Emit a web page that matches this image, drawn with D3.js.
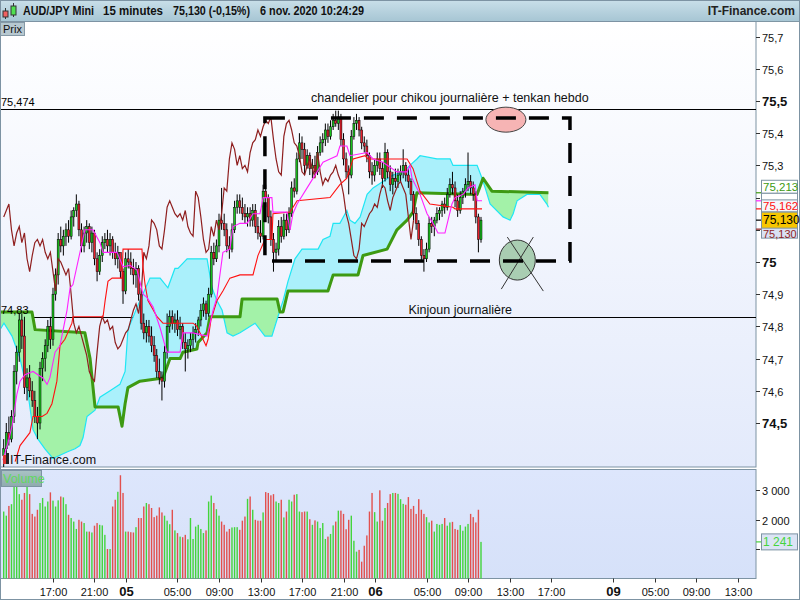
<!DOCTYPE html>
<html><head><meta charset="utf-8">
<script src="https://cdn.jsdelivr.net/npm/d3@7/dist/d3.min.js"></script>
<style>html,body{margin:0;padding:0;background:#fff}svg{display:block}</style>
</head><body>
<svg id="c" width="800" height="600"></svg>
<script>
// ---------------- DATA ----------------
const opens = [74.40,74.42,74.47,74.45,74.52,74.66,74.72,74.82,74.77,74.61,
74.64,74.60,74.57,74.52,74.50,74.67,74.70,74.74,74.80,74.76,
74.90,74.96,75.07,75.05,75.08,75.10,75.08,75.14,75.16,75.18,
75.10,75.05,75.09,75.11,75.06,75.09,75.01,74.97,75.02,75.06,
75.07,75.05,75.07,75.03,75.01,75.03,74.97,74.91,75.01,75.00,
74.98,74.96,74.98,74.90,74.81,74.78,74.80,74.77,74.74,74.71,
74.66,74.64,74.63,74.72,74.80,74.83,74.81,74.82,74.79,74.80,
74.75,74.73,74.74,74.76,74.78,74.79,74.82,74.85,74.87,74.84,
74.90,75.03,75.01,75.05,75.13,75.12,75.10,75.05,75.04,75.10,
75.17,75.19,75.17,75.15,75.14,75.15,75.13,75.16,75.11,75.09,
75.08,75.22,75.20,75.14,75.07,75.03,75.04,75.11,75.08,75.13,
75.10,75.15,75.23,75.22,75.32,75.37,75.35,75.30,75.33,75.29,
75.30,75.28,75.34,75.37,75.38,75.41,75.39,75.42,75.44,75.43,
75.45,75.38,75.32,75.28,75.27,75.39,75.43,75.44,75.41,75.37,
75.36,75.33,75.28,75.27,75.30,75.32,75.29,75.26,75.34,75.28,
75.24,75.26,75.25,75.27,75.28,75.30,75.27,75.25,75.21,75.15,
75.12,75.07,75.02,75.01,75.04,75.12,75.11,75.13,75.15,75.16,
75.18,75.17,75.21,75.24,75.23,75.19,75.16,75.20,75.22,75.24,
75.25,75.23,75.21,75.14,75.07];
const highs = [74.45,74.50,74.52,74.54,74.68,74.74,74.84,74.84,74.83,74.67,
74.68,74.63,74.60,74.55,74.69,74.72,74.76,74.82,74.83,74.92,
74.98,75.09,75.11,75.10,75.12,75.13,75.16,75.17,75.21,75.19,
75.12,75.11,75.13,75.12,75.11,75.10,75.03,75.04,75.08,75.09,
75.10,75.09,75.08,75.06,75.05,75.02,74.98,75.03,75.04,75.03,
75.01,75.00,74.99,74.92,74.84,74.82,74.82,74.80,74.77,74.73,
74.70,74.66,74.74,74.84,74.85,74.85,74.84,74.85,74.83,74.81,
74.78,74.76,74.78,74.80,74.81,74.83,74.87,74.89,74.88,74.92,
75.05,75.06,75.07,75.15,75.23,75.15,75.12,75.08,75.12,75.19,
75.21,75.21,75.20,75.18,75.17,75.17,75.18,75.18,75.14,75.13,
75.24,75.24,75.21,75.16,75.09,75.06,75.13,75.14,75.15,75.15,
75.17,75.25,75.26,75.34,75.40,75.39,75.37,75.35,75.34,75.32,
75.33,75.36,75.39,75.40,75.43,75.43,75.44,75.46,75.47,75.47,
75.46,75.40,75.34,75.30,75.41,75.45,75.46,75.45,75.42,75.39,
75.38,75.34,75.31,75.32,75.34,75.34,75.31,75.37,75.35,75.30,
75.28,75.29,75.29,75.30,75.35,75.31,75.29,75.26,75.22,75.17,
75.13,75.08,75.04,75.06,75.14,75.14,75.14,75.17,75.17,75.19,
75.20,75.23,75.26,75.28,75.25,75.21,75.22,75.23,75.26,75.34,
75.27,75.25,75.22,75.15,75.14];
const lows = [74.36,74.40,74.43,74.44,74.50,74.62,74.69,74.73,74.59,74.57,
74.58,74.55,74.50,74.45,74.48,74.63,74.66,74.72,74.73,74.74,
74.88,74.93,75.03,75.02,75.05,75.06,75.07,75.11,75.14,75.08,
75.03,75.03,75.06,75.04,75.03,74.99,74.94,74.96,75.00,75.04,
75.03,75.02,75.01,74.99,74.98,74.95,74.87,74.90,74.98,74.96,
74.93,74.92,74.88,74.79,74.76,74.75,74.75,74.72,74.69,74.64,
74.62,74.57,74.61,74.70,74.78,74.79,74.78,74.77,74.76,74.73,
74.66,74.70,74.72,74.73,74.75,74.77,74.80,74.83,74.82,74.83,
74.89,74.99,75.00,75.03,75.10,75.08,75.03,75.01,75.03,75.09,
75.15,75.15,75.13,75.12,75.11,75.11,75.11,75.09,75.07,75.06,
75.07,75.17,75.12,75.05,74.97,75.00,75.02,75.06,75.07,75.08,
75.09,75.14,75.20,75.21,75.31,75.32,75.27,75.29,75.27,75.26,
75.27,75.27,75.33,75.34,75.36,75.37,75.38,75.41,75.42,75.41,
75.36,75.30,75.26,75.21,75.26,75.38,75.41,75.39,75.35,75.34,
75.31,75.26,75.24,75.25,75.28,75.27,75.23,75.25,75.26,75.22,
75.21,75.23,75.23,75.25,75.26,75.25,75.23,75.19,75.13,75.10,
75.05,75.00,74.97,75.00,75.03,75.09,75.08,75.12,75.13,75.14,
75.15,75.16,75.20,75.21,75.17,75.14,75.15,75.18,75.20,75.22,
75.21,75.19,75.12,75.03,75.06];
const closes = [74.42,74.47,74.45,74.52,74.66,74.72,74.82,74.77,74.61,74.64,
74.60,74.57,74.52,74.50,74.67,74.70,74.74,74.80,74.76,74.90,
74.96,75.07,75.05,75.08,75.10,75.08,75.14,75.16,75.18,75.10,
75.05,75.09,75.11,75.06,75.09,75.01,74.97,75.02,75.06,75.07,
75.05,75.07,75.03,75.01,75.03,74.97,74.91,75.01,75.00,74.98,
74.96,74.98,74.90,74.81,74.78,74.80,74.77,74.74,74.71,74.66,
74.64,74.63,74.72,74.80,74.83,74.81,74.82,74.79,74.80,74.75,
74.73,74.74,74.76,74.78,74.79,74.82,74.85,74.87,74.84,74.90,
75.03,75.01,75.05,75.13,75.12,75.10,75.05,75.04,75.10,75.17,
75.19,75.17,75.15,75.14,75.15,75.13,75.16,75.11,75.09,75.08,
75.22,75.20,75.14,75.07,75.03,75.04,75.11,75.08,75.13,75.10,
75.15,75.23,75.22,75.32,75.37,75.35,75.30,75.33,75.29,75.30,
75.28,75.34,75.37,75.38,75.41,75.39,75.42,75.44,75.43,75.45,
75.38,75.32,75.28,75.27,75.39,75.43,75.44,75.41,75.37,75.36,
75.33,75.28,75.27,75.30,75.32,75.29,75.26,75.34,75.28,75.24,
75.26,75.25,75.27,75.28,75.30,75.27,75.25,75.21,75.15,75.12,
75.07,75.02,75.01,75.04,75.12,75.11,75.13,75.15,75.16,75.18,
75.17,75.21,75.24,75.23,75.19,75.16,75.20,75.22,75.24,75.25,
75.23,75.21,75.14,75.07,75.13];
const volumes = [2270,2130,2460,2520,3240,3260,2860,2670,2900,3120,
2860,2190,2100,2330,2560,2730,2440,2610,2920,2640,
2440,2650,2780,2750,2520,2160,2050,1930,1680,1990,
1930,1880,1590,1590,1560,1790,1880,1820,1800,1480,
1000,1000,2440,2670,2940,3500,2900,1590,1590,1570,
1560,1740,2050,2050,2440,2560,2520,2390,2080,2130,
2410,2240,2130,1960,1840,2330,1630,1540,1420,1400,
1480,1330,2050,1340,1760,1820,1680,1540,1630,2610,
2810,2560,2350,2130,1930,1820,1590,1680,1730,1740,
1740,1650,1960,2100,2700,2780,2330,1990,1960,1960,
2240,2930,2900,2820,2860,2610,2560,2670,2070,2270,
2670,2610,2840,2860,2270,2250,2270,2270,2010,1820,
1970,1930,1710,1880,1340,1420,1510,1800,1930,2300,
2300,2190,1670,1990,2130,1280,910,970,570,1110,
1460,2270,2900,2250,1930,2990,1960,2390,2560,2860,
2900,2900,2870,2690,2530,2500,2760,2360,2460,2190,
2690,2330,2190,2080,1900,1960,1590,1850,1820,1850,
2050,1790,1900,1920,1680,1650,1810,1620,1760,1850,
2190,2080,1900,2330,1241];
// Ichimoku lines: [candle index, price]
const tenkan = [[-0.3,74.385],[1.7,74.44],[3.2,74.49],[5.1,74.59],[6.3,74.63],[8.2,74.65],[11.3,74.66],[15.1,74.64],[16.7,74.62],[17.8,74.64],[19.8,74.72],[21.7,74.74],[24.4,74.85],[25.6,74.92],[26.7,74.93],[29.4,75.03],[31.3,75.10],[34.4,75.10],[37.1,75.06],[38.3,75.03],[43.7,75.03],[46.0,74.985],[48.7,74.99],[51.4,74.975],[53.7,74.90],[55.2,74.89],[57.6,74.86],[60.3,74.795],[62.9,74.72],[68.0,74.72],[69.1,74.78],[73.0,74.78],[78.4,74.77],[80.7,74.85],[82.2,74.89],[84.5,75.03],[87.2,75.04],[88.4,75.11],[91.1,75.12],[93.8,75.12],[96.1,75.15],[98.8,75.15],[100.0,75.20],[103.4,75.20],[103.8,75.155],[109.2,75.155],[110.4,75.10],[111.5,75.15],[113.1,75.18],[118.1,75.245],[120.8,75.28],[123.1,75.31],[125.8,75.32],[128.5,75.33],[129.6,75.36],[132.3,75.36],[133.5,75.33],[140.1,75.34],[142.4,75.32],[146.2,75.31],[151.6,75.28],[155.5,75.28],[156.6,75.30],[157.4,75.26],[160.5,75.21],[163.2,75.15],[165.5,75.12],[167.4,75.09],[170.1,75.09],[171.3,75.13],[172.8,75.18],[174.0,75.20],[177.1,75.21],[179.0,75.23],[181.7,75.24],[182.5,75.19],[184.4,75.19]];
const kijun = [[4.4,74.38],[6.3,74.43],[8.2,74.45],[10.1,74.47],[11.3,74.52],[14.8,74.52],[16.7,74.53],[18.6,74.56],[20.5,74.63],[21.7,74.74],[23.6,74.76],[26.3,74.81],[26.7,74.83],[38.3,74.83],[39.1,74.88],[40.2,74.94],[41.8,74.95],[45.6,74.95],[46.0,75.04],[53.3,75.04],[53.7,74.985],[54.5,74.93],[55.6,74.88],[59.1,74.83],[61.4,74.81],[73.0,74.81],[74.5,74.80],[78.0,74.74],[78.8,74.76],[79.9,74.82],[82.2,74.88],[84.5,74.91],[87.2,74.95],[91.1,74.96],[96.1,74.96],[98.0,75.02],[100.7,75.07],[103.4,75.07],[103.8,75.15],[110.4,75.155],[113.1,75.19],[125.8,75.20],[129.6,75.24],[132.3,75.26],[134.7,75.32],[139.3,75.33],[140.4,75.32],[155.5,75.32],[157.8,75.29],[160.5,75.22],[164.3,75.18],[173.2,75.17],[174.0,75.165],[184.4,75.165]];
const senkouA = [[-1.4,74.79],[0.1,74.81],[3.2,74.77],[6.3,74.70],[9.4,74.59],[11.3,74.48],[13.2,74.45],[15.9,74.42],[19.0,74.39],[21.7,74.40],[24.4,74.41],[27.5,74.42],[29.4,74.43],[30.6,74.455],[32.1,74.52],[35.2,74.54],[37.1,74.58],[41.0,74.60],[44.8,74.62],[46.8,74.66],[47.9,74.79],[52.5,74.88],[56.4,74.95],[60.3,74.95],[63.3,74.92],[66.0,74.98],[67.2,74.98],[70.7,75.01],[78.4,75.01],[80.3,74.92],[82.2,74.88],[84.2,74.85],[86.1,74.78],[88.4,74.77],[91.1,74.78],[96.9,74.81],[100.7,74.77],[103.4,74.77],[105.7,74.83],[107.7,74.88],[109.6,74.94],[112.3,75.01],[115.0,75.04],[121.2,75.04],[123.1,75.07],[125.8,75.08],[127.0,75.12],[129.6,75.12],[132.3,75.16],[133.5,75.13],[135.4,75.12],[137.4,75.14],[140.1,75.21],[142.4,75.23],[146.2,75.25],[150.1,75.27],[153.9,75.28],[156.6,75.30],[159.3,75.32],[160.5,75.33],[167.0,75.32],[172.1,75.32],[173.2,75.30],[179.8,75.30],[182.5,75.30],[184.4,75.26],[185.6,75.23],[187.5,75.18],[192.5,75.14],[195.2,75.13],[196.4,75.15],[197.9,75.19],[201.7,75.21],[206.7,75.21],[209.4,75.18],[210.0,75.17]];
const senkouB = [[-1.4,74.845],[10.9,74.845],[12.1,74.79],[31.3,74.78],[33.3,74.70],[35.2,74.55],[44.1,74.55],[45.6,74.49],[46.8,74.56],[47.9,74.61],[52.5,74.63],[61.4,74.64],[64.1,74.70],[68.0,74.70],[69.1,74.72],[74.5,74.73],[74.9,74.75],[78.4,74.78],[79.5,74.83],[91.1,74.83],[91.9,74.885],[105.4,74.885],[106.5,74.845],[107.7,74.845],[109.6,74.91],[125.0,74.91],[127.0,74.96],[136.6,74.96],[138.5,75.02],[147.8,75.04],[151.6,75.10],[155.5,75.13],[157.8,75.155],[159.3,75.215],[182.5,75.21],[184.8,75.26],[188.2,75.22],[210.0,75.215]];
const chikouShift = 26;
const priceTicks = [75.7,75.6,75.5,75.4,75.3,75.2,75.1,75.0,74.9,74.8,74.7,74.6,74.5];
const hiddenTicks = [75.2,75.1];      // labels covered by the value boxes in the original
const boldTicks = [75.5,75.0,74.5];
const volTicks = [1000,2000,3000];
const hiddenVolTicks = [1000];
const xTickIdx = [19,35,47,67,83,99,115,131,143,163,179,195,211,235,251,267,283];
const xTickLbl = ["17:00","21:00","05","05:00","09:00","13:00","17:00","21:00","06","05:00","09:00","13:00","17:00","09","05:00","09:00","13:00"];
const xTickDay = [0,0,1,0,0,0,0,0,1,0,0,0,0,1,0,0,0];
const hLines = [[75.474,"75,474"],[74.83,"74,83"]];
const boxIdx = [100.7,218.3], boxPrice = [75.003,75.447];
const ellipseAt = [193.6,75.442], circleAt = [198.0,75.006];
const noteTop = ["chandelier pour chikou journalière + tenkan hebdo",172.0,75.497];
const noteKijun = ["Kinjoun journalière",176.0,74.85];
const headerParts = ["AUD/JPY Mini","15 minutes","75,130 (-0,15%)","6 nov. 2020 10:24:29"];
const lastPrice = 75.130, lastVol = 1241;

// ---------------- DRAW ----------------
const svg = d3.select("#c");
const F = "'Liberation Sans', Arial, sans-serif";
const L = 0, R = 756, T = 22, B = 467, VT = 470, VB = 578.5;
const x = d3.scaleLinear().domain([0,184]).range([3.7,481]);
const y = d3.scaleLinear().domain([74.3634,75.7453]).range([B,T]);
const yv = d3.scaleLinear().domain([0,3000]).range([VB,490]);
const defs = svg.append("defs");
function grad(id,c0,c1){const g=defs.append("linearGradient").attr("id",id).attr("x1",0).attr("y1",0).attr("x2",0).attr("y2",1);
  g.append("stop").attr("offset","0").attr("stop-color",c0); g.append("stop").attr("offset","1").attr("stop-color",c1);}
grad("hdr","#c9dfe9","#a7c6d4");
grad("mainbg","#ffffff","#e3eafb");
grad("volbg","#dde6fc","#d6e1f9");
grad("vlab","#a9c2c4","#8eabae");
defs.append("clipPath").attr("id","mainclip").append("rect").attr("x",L+1).attr("y",T).attr("width",R-L-1).attr("height",B-T);

// background
svg.append("rect").attr("width",800).attr("height",600).attr("fill","#ffffff");
svg.append("rect").attr("x",0).attr("y",0).attr("width",800).attr("height",21).attr("fill","url(#hdr)");
svg.append("line").attr("x1",0).attr("x2",800).attr("y1",21.5).attr("y2",21.5).attr("stroke","#7f96a4");
svg.append("rect").attr("x",L).attr("y",T).attr("width",R-L).attr("height",B-T).attr("fill","url(#mainbg)");
svg.append("rect").attr("x",L).attr("y",VT).attr("width",R-L).attr("height",VB-VT).attr("fill","url(#volbg)");
svg.append("rect").attr("x",0.5).attr("y",T-0.5).attr("width",R-0.5).attr("height",B-T+0.5).attr("fill","none").attr("stroke","#7d93a3");
svg.append("rect").attr("x",0.5).attr("y",VT-0.5).attr("width",R-0.5).attr("height",VB-VT+0.5).attr("fill","none").attr("stroke","#7d93a3");
svg.append("rect").attr("x",0.5).attr("y",0.5).attr("width",799).attr("height",599).attr("fill","none").attr("stroke","#7d93a3");

// header
const ic = svg.append("g");
ic.append("line").attr("x1",5.5).attr("x2",5.5).attr("y1",8).attr("y2",19).attr("stroke","#333");
ic.append("rect").attr("x",3).attr("y",11).attr("width",5).attr("height",6).attr("fill","#f06060").attr("stroke","#333");
ic.append("line").attr("x1",13.5).attr("x2",13.5).attr("y1",3).attr("y2",17).attr("stroke","#333");
ic.append("rect").attr("x",11).attr("y",6).attr("width",5).attr("height",9).attr("fill","#50e050").attr("stroke","#333");
const hx = [23,103,173,260], hw = [71,60,77,104];
headerParts.forEach((t,i)=>svg.append("text").attr("x",hx[i]).attr("y",15).attr("font-family",F).attr("font-size",12)
  .attr("font-weight","bold").attr("fill","#111").attr("textLength",hw[i]).attr("lengthAdjust","spacingAndGlyphs").text(t));
svg.append("text").attr("x",795).attr("y",15).attr("text-anchor","end").attr("font-family",F).attr("font-size",12).attr("font-weight","bold")
  .attr("fill","#222").text("IT-Finance.com");

const main = svg.append("g").attr("clip-path","url(#mainclip)");

// horizontal price lines
hLines.forEach(([p,t])=>{
  main.append("line").attr("x1",L).attr("x2",R).attr("y1",Math.round(y(p))+0.5).attr("y2",Math.round(y(p))+0.5).attr("stroke","#000");
});

// cloud
const lineP = d3.line().x(d=>x(d[0])).y(d=>y(d[1]));
const band = lineP(senkouA) + lineP(senkouB.slice().reverse()).replace(/^M/,"L") + "Z";
const aPts = senkouA.map(d=>[x(d[0]),y(d[1])]);
const above = "M"+aPts[0][0]+","+T+aPts.map(p=>"L"+p[0]+","+p[1]).join("")+"L"+aPts[aPts.length-1][0]+","+T+"Z";
const below = "M"+aPts[0][0]+","+B+aPts.map(p=>"L"+p[0]+","+p[1]).join("")+"L"+aPts[aPts.length-1][0]+","+B+"Z";
defs.append("clipPath").attr("id","clipAbove").append("path").attr("d",above);
defs.append("clipPath").attr("id","clipBelow").append("path").attr("d",below);
main.append("g").attr("clip-path","url(#clipAbove)").append("path").attr("d",band).attr("fill","#a3f2a8").attr("fill-rule","evenodd");
main.append("g").attr("clip-path","url(#clipBelow)").append("path").attr("d",band).attr("fill","#aaf0fb").attr("fill-rule","evenodd");
main.append("path").attr("d",lineP(senkouA)).attr("fill","none").attr("stroke","#1fe6f4").attr("stroke-width",1.2);
main.append("path").attr("d",lineP(senkouB)).attr("fill","none").attr("stroke","#3d9a12").attr("stroke-width",3).attr("stroke-linejoin","round");

// candles
const idx = d3.range(closes.length);
const cg = main.append("g");
cg.selectAll("line.w").data(idx).join("line")
  .attr("x1",i=>x(i)).attr("x2",i=>x(i)).attr("y1",i=>y(highs[i])).attr("y2",i=>y(lows[i]))
  .attr("stroke","#000").attr("stroke-width",1);
cg.selectAll("rect.b").data(idx).join("rect")
  .attr("x",i=>x(i)-1).attr("width",2)
  .attr("y",i=>y(Math.max(opens[i],closes[i])))
  .attr("height",i=>Math.max(1,Math.abs(y(opens[i])-y(closes[i]))))
  .attr("fill",i=>closes[i]>=opens[i]?"#19c21c":"#e8202c").attr("stroke","#000").attr("stroke-width",0.5);

// thin lines
const chik = d3.range(closes.length-chikouShift).map(i=>[i,closes[i+chikouShift]]);
main.append("path").attr("d",lineP(chik)).attr("fill","none").attr("stroke","#8f1f1f").attr("stroke-width",1.2);
main.append("path").attr("d",lineP(kijun)).attr("fill","none").attr("stroke","#ff1010").attr("stroke-width",1.1);
main.append("path").attr("d",lineP(tenkan)).attr("fill","none").attr("stroke","#ff22ff").attr("stroke-width",1.1);

// price line labels on top
hLines.forEach(([p,t])=>{
  main.append("text").attr("x",1).attr("y",y(p)-3).attr("font-family",F).attr("font-size",11).attr("fill","#000").text(t);
});

// annotations
const bx0 = x(boxIdx[0]), bx1 = x(boxIdx[1]), by0 = y(boxPrice[1]), by1 = y(boxPrice[0]);
main.append("ellipse").attr("cx",x(ellipseAt[0])).attr("cy",y(ellipseAt[1])).attr("rx",20).attr("ry",12.5).attr("fill","#f6b4b4").attr("stroke","#444");
const cx = x(circleAt[0]), cy = y(circleAt[1]);
main.append("ellipse").attr("cx",cx).attr("cy",cy).attr("rx",18).attr("ry",20).attr("fill","#a9cdb2").attr("stroke","#333");
main.append("line").attr("x1",cx-16).attr("y1",cy+29).attr("x2",cx+16).attr("y2",cy-23).attr("stroke","#333");
main.append("line").attr("x1",cx-10).attr("y1",cy-23).attr("x2",cx+26).attr("y2",cy+31).attr("stroke","#333");
main.append("rect").attr("x",bx0).attr("y",by0).attr("width",bx1-bx0).attr("height",by1-by0)
  .attr("fill","none").attr("stroke","#000").attr("stroke-width",3.5).attr("stroke-dasharray","20,13");
main.append("text").attr("x",x(noteTop[1])).attr("y",y(noteTop[2])).attr("text-anchor","middle").attr("font-family",F).attr("font-size",12.5).attr("fill","#111").text(noteTop[0]);
main.append("text").attr("x",x(noteKijun[1])).attr("y",y(noteKijun[2])+4).attr("text-anchor","middle").attr("font-family",F).attr("font-size",12.5).attr("fill","#111").text(noteKijun[0]);

// labels in panels
svg.append("rect").attr("x",0.5).attr("y",22.5).attr("width",24).attr("height",13).attr("fill","#b7c8d0").attr("stroke","#8599a6");
svg.append("text").attr("x",3).attr("y",33).attr("font-family",F).attr("font-size",11).attr("fill","#111").text("Prix");
const wm = svg.append("g");
wm.append("rect").attr("x",3).attr("y",455).attr("width",3).attr("height",9).attr("fill","#d33");
wm.append("rect").attr("x",6).attr("y",453).attr("width",3).attr("height",11).attr("fill","#222");
svg.append("text").attr("x",10).attr("y",464).attr("font-family",F).attr("font-size",12.5).attr("fill","#111").text("IT-Finance.com");

// price axis
const fmt = v => (+v.toFixed(1)).toString().replace(".",",");
priceTicks.forEach(p=>{
  const yy = Math.round(y(p))+0.5;
  svg.append("line").attr("x1",R).attr("x2",R+4).attr("y1",yy).attr("y2",yy).attr("stroke","#333");
  if (hiddenTicks.includes(p)) return;
  const b = boldTicks.includes(p);
  svg.append("text").attr("x",R+6).attr("y",yy+4).attr("font-family",F).attr("font-size",b?13:11).attr("font-weight",b?"bold":"normal").attr("fill","#111").text(fmt(p));
});
// value boxes on price axis
function vbox(p,dy,h,text,col,bg,fs,ty){
  const yc = y(p)+dy;
  svg.append("rect").attr("x",761.5).attr("y",yc-h/2).attr("width",36).attr("height",h).attr("fill",bg).attr("stroke","#7d93a3");
  if(text) svg.append("text").attr("x",763).attr("y",yc+(ty||4)).attr("font-family",F).attr("font-size",fs||12).attr("fill",col).text(text);
}
[[senkouB[senkouB.length-1][1],"#3d9a12",0],[tenkan[tenkan.length-1][1],"#ff22ff",0],[kijun[kijun.length-1][1],"#ff1010",0],[lastPrice,"#000",0],[closes[closes.length-1],"#8f1f1f",9]]
  .forEach(([p,c,o])=>svg.append("line").attr("x1",R).attr("x2",R+5).attr("y1",y(p)+o).attr("y2",y(p)+o).attr("stroke",c).attr("stroke-width",1.2));
vbox(senkouB[senkouB.length-1][1],-6,13,"75,213","#3d9a12","#ffffff",11.5);
vbox(tenkan[tenkan.length-1][1],-3,9,"","#ff22ff","#ffffff");
vbox(kijun[kijun.length-1][1],-3,12,"75,162","#ff1010","#f4f6fb",11.5);
vbox(closes[closes.length-1],12.5,11,"75,130","#8f1f1f","#d9e1f3",11,5);
vbox(lastPrice,0,16,"75,130","#000","#f7c600",12);

// volume
svg.append("g").selectAll("rect").data(idx).join("rect")
  .attr("x",i=>x(i)-0.7).attr("width",1.4)
  .attr("y",i=>yv(volumes[i])).attr("height",i=>VB-yv(volumes[i]))
  .attr("fill",i=>closes[i]>=opens[i]?"#44d43c":"#e2504e");
svg.append("rect").attr("x",1.5).attr("y",470.5).attr("width",40).attr("height",16).attr("fill","url(#vlab)").attr("stroke","#7d93a3");
svg.append("text").attr("x",3).attr("y",483).attr("font-family",F).attr("font-size",12.5).attr("fill","#62d85e").text("Volume");
volTicks.forEach(v=>{
  const yy = Math.round(yv(v))+0.5;
  svg.append("line").attr("x1",R).attr("x2",R+4).attr("y1",yy).attr("y2",yy).attr("stroke","#333");
  if (hiddenVolTicks.includes(v)) return;
  svg.append("text").attr("x",R+6).attr("y",yy+4).attr("font-family",F).attr("font-size",11).attr("fill","#111").text(d3.format(",")(v).replace(","," "));
});
svg.append("line").attr("x1",R).attr("x2",R+5).attr("y1",yv(lastVol)).attr("y2",yv(lastVol)).attr("stroke","#44d43c").attr("stroke-width",1.2);
svg.append("rect").attr("x",761.5).attr("y",yv(lastVol)-8).attr("width",36).attr("height",16).attr("fill","#dbe4f5").attr("stroke","#7d93a3");
svg.append("text").attr("x",763).attr("y",yv(lastVol)+4.5).attr("font-family",F).attr("font-size",12).attr("fill","#44d43c").text(d3.format(",")(lastVol).replace(","," "));

// time axis
xTickIdx.forEach((t,k)=>{
  const xx = Math.round(x(t))+0.5;
  svg.append("line").attr("x1",xx).attr("x2",xx).attr("y1",VB).attr("y2",VB+4).attr("stroke","#333");
  const d = xTickDay[k];
  svg.append("text").attr("x",xx).attr("y",596).attr("text-anchor","middle").attr("font-family",F)
    .attr("font-size",d?13:11).attr("font-weight",d?"bold":"normal").attr("fill","#111").text(xTickLbl[k]);
});
</script>
</body></html>
